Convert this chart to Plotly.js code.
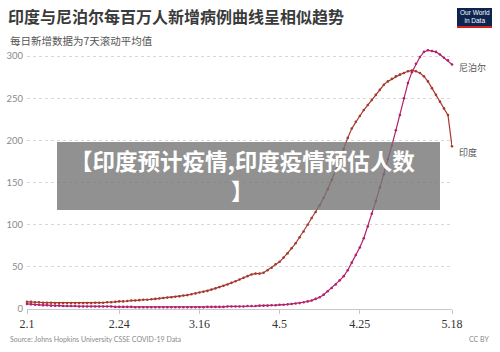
<!DOCTYPE html>
<html>
<head>
<meta charset="utf-8">
<script src="https://cdn.plot.ly/plotly-3.0.1.min.js"></script>
<style>
html,body{margin:0;padding:0;background:#fff;}
#chart{width:500px;height:352px;}
</style>
</head>
<body>
<div id="chart"></div>
<script>
// ---- data (daily 7-day rolling average, new cases per million) ----
const startDate = '2021-02-01';
const countries = ['印度', '尼泊尔'];
const indiaValues = [
  8.5, 8.5, 8, 8, 7.5, 7.5, 7.5, 7, 7, 7,
  7, 7, 7, 7, 7, 7, 7, 7.5, 7.5, 7.5,
  8, 8, 8.5, 9, 9, 9.5, 10, 10, 10.5, 11,
  11, 11.5, 12, 12.5, 13, 13.5, 14, 14.5, 15, 16,
  16.5, 17.5, 18.5, 19.5, 20.5, 21.5, 23, 24.5, 26, 27.5,
  29, 31, 33, 35, 37, 39, 41, 42, 42, 43,
  46, 49, 53, 56, 61, 66, 72, 78, 85, 92,
  100, 108, 115, 123, 132, 142, 153, 165, 178, 190,
  203, 214, 222, 229, 236, 242, 248, 254, 260, 266,
  270, 273, 276, 278, 280, 282, 283, 282, 280, 276,
  270, 262, 254, 246, 238, 230, 193
];
const nepalValues = [
  6, 5.5, 5, 5, 4.5, 4.5, 4, 4, 4, 3.5,
  3.5, 3.5, 3.5, 3, 3, 3, 3, 3, 3, 3,
  3, 3, 2.5, 2.5, 2.5, 2.5, 2.5, 2, 2, 2,
  2, 2, 2, 2, 2, 2, 2, 2, 2, 2,
  2, 2, 2, 2, 2, 2.5, 2.5, 2.5, 2.5, 2.5,
  3, 3, 3, 3, 3, 3.5, 3.5, 3.5, 4, 4,
  4, 4.5, 4.5, 5, 5, 5.5, 6, 6.5, 7, 8,
  9, 10, 12, 14, 17, 21, 25, 29, 34, 39,
  46, 55, 64, 73, 84, 98, 113, 128, 144, 160,
  178, 194, 212, 230, 250, 268, 281, 291, 299, 305,
  307, 306, 305, 302, 298, 295, 290
];
const tickDates = ['2021-02-01', '2021-02-24', '2021-03-16', '2021-04-05', '2021-04-25', '2021-05-18'];
const tickLabels = ['2.1', '2.24', '3.16', '4.5', '4.25', '5.18'];
const yTicks = [0, 50, 100, 150, 200, 250, 300];

const titleText = '印度与尼泊尔每百万人新增病例曲线呈相似趋势';
const subtitleText = '每日新增数据为7天滚动平均值';
const sourceText = 'Source: Johns Hopkins University CSSE COVID-19 Data';
const licenseText = 'CC BY';
const overlayLines = ['【印度预计疫情,印度疫情预估人数', '】'];

// ---- build dates ----
function dateSeq(start, n) {
  const out = [];
  const d0 = new Date(start + 'T00:00:00Z');
  for (let i = 0; i < n; i++) {
    const d = new Date(d0.getTime() + i * 86400000);
    out.push(d.toISOString().slice(0, 10));
  }
  return out;
}
const dates = dateSeq(startDate, indiaValues.length);

const FONT = '"Noto Sans CJK SC", "Noto Sans", sans-serif';
const indiaColor = '#a53a2c';
const nepalColor = '#b3206c';

const traces = [
  {
    x: dates, y: indiaValues, name: countries[0], type: 'scatter', mode: 'lines+markers',
    line: {color: indiaColor, width: 1.2}, marker: {color: indiaColor, size: 2.6},
    cliponaxis: false, hoverinfo: 'skip'
  },
  {
    x: dates, y: nepalValues, name: countries[1], type: 'scatter', mode: 'lines+markers',
    line: {color: nepalColor, width: 1.2}, marker: {color: nepalColor, size: 2.6},
    cliponaxis: false, hoverinfo: 'skip'
  }
];

// pixel -> paper helpers (plot area: x 27..452, y 46..309)
const L = 27, W = 425, T = 46, H = 263;
const px = v => (v - L) / W;
const py = v => (T + H - v) / H;

const last = dates.length - 1;

const layout = {
  width: 500, height: 352,
  margin: {l: L, r: 500 - L - W, t: T, b: 352 - T - H, pad: 0},
  paper_bgcolor: '#fff', plot_bgcolor: '#fff',
  showlegend: false,
  font: {family: FONT, color: '#555'},
  title: {
    text: '<b>' + titleText + '</b>',
    x: 8 / 500, xref: 'container', xanchor: 'left',
    y: 1 - 17 / 352, yref: 'container', yanchor: 'middle',
    font: {family: FONT, size: 16, color: '#3a3a3a'}
  },
  xaxis: {
    type: 'date', range: [dates[0], dates[last]],
    tickvals: tickDates, ticktext: tickLabels,
    tickfont: {family: '"Liberation Serif", "DejaVu Serif", serif', size: 12, color: '#333'},
    showgrid: false, zeroline: false,
    showline: true, linecolor: '#c8c8c8', linewidth: 1,
    ticks: 'outside', ticklen: 4, tickcolor: '#c8c8c8',
    fixedrange: true
  },
  yaxis: {
    range: [0, 312], tickvals: yTicks,
    tickfont: {family: '"Lato", "Noto Sans", sans-serif', size: 9.5, color: '#8a8a8a'},
    showgrid: true, gridcolor: '#d8d8d8', griddash: 'dot', gridwidth: 1,
    zeroline: false, showline: false, ticks: '', ticklabelstandoff: 3,
    fixedrange: true
  },
  shapes: [
    // OWID logo
    {type: 'rect', xref: 'paper', yref: 'paper', x0: px(457), x1: px(492), y0: py(28), y1: py(8),
     fillcolor: '#0d2350', line: {width: 0}, layer: 'above'},
    {type: 'rect', xref: 'paper', yref: 'paper', x0: px(457), x1: px(492), y0: py(28), y1: py(26),
     fillcolor: '#ce261e', line: {width: 0}, layer: 'above'},
    // grey overlay banner
    {type: 'rect', xref: 'paper', yref: 'paper', x0: px(57), x1: px(440), y0: py(210), y1: py(142),
     fillcolor: 'rgba(118,118,118,0.8)', line: {width: 0}, layer: 'above'}
  ],
  annotations: [
    {text: subtitleText, xref: 'paper', yref: 'paper', x: px(8), y: py(40), xanchor: 'left', yanchor: 'middle',
     showarrow: false, font: {family: FONT, size: 10.5, color: '#555'}},
    {text: sourceText, xref: 'paper', yref: 'paper', x: px(8), y: py(339), xanchor: 'left', yanchor: 'middle',
     showarrow: false, font: {family: '"Lato", sans-serif', size: 7, color: '#8a8a8a'}},
    {text: licenseText, xref: 'paper', yref: 'paper', x: px(491), y: py(339), xanchor: 'right', yanchor: 'middle',
     showarrow: false, font: {family: '"Lato", sans-serif', size: 7, color: '#8a8a8a'}},
    {text: 'Our World<br>in Data', xref: 'paper', yref: 'paper', x: px(474.5), y: py(16.5), xanchor: 'center', yanchor: 'middle',
     showarrow: false, font: {family: '"Liberation Sans Narrow", "Liberation Sans", sans-serif', size: 6.5, color: '#fff'}},
    // series end labels
    {text: countries[1], x: dates[last], y: nepalValues[last], xref: 'x', yref: 'y', xanchor: 'left', yanchor: 'middle',
     xshift: 5, yshift: -3, showarrow: false, font: {family: FONT, size: 9, color: '#555'}},
    {text: countries[0], x: dates[last], y: indiaValues[last], xref: 'x', yref: 'y', xanchor: 'left', yanchor: 'middle',
     xshift: 5, yshift: -6, showarrow: false, font: {family: FONT, size: 9, color: '#555'}},
    // overlay banner text (two lines)
    {text: '<b>' + overlayLines[0] + '</b>', xref: 'paper', yref: 'paper', x: px(243), y: py(160), xanchor: 'center', yanchor: 'middle',
     showarrow: false, font: {family: FONT, size: 22.5, color: '#fff', weight: 900}},
    {text: '<b>' + overlayLines[1] + '</b>', xref: 'paper', yref: 'paper', x: px(243), y: py(190), xanchor: 'center', yanchor: 'middle',
     showarrow: false, font: {family: FONT, size: 22.5, color: '#fff', weight: 900}}
  ]
};

Plotly.newPlot('chart', traces, layout, {displayModeBar: false, staticPlot: true});
</script>
</body>
</html>
